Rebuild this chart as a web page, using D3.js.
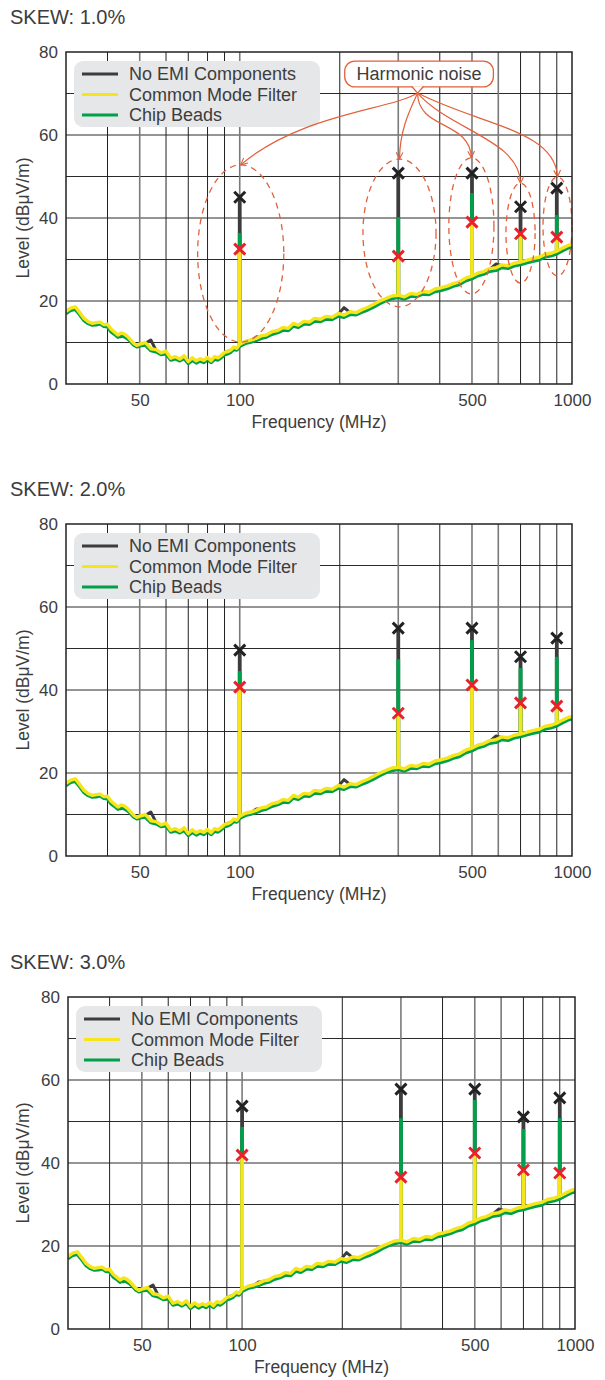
<!DOCTYPE html>
<html><head><meta charset="utf-8">
<script src="https://cdn.jsdelivr.net/npm/d3@7"></script>
<style>
body{margin:0;background:#fff}
text{font-family:"Liberation Sans",Arial,Helvetica,sans-serif;fill:#3d3d3d}
</style>
</head><body>
<svg id="c" width="605" height="1380"></svg>
<script>
// ---------- data ----------
const freqs = [30,31,32,33,34,35,36,37,38,39,40,41,42,43,44,45,46,47,48,49,50,
  52,54,56,58,60,62,64,66,68,70,72,74,76,78,80,82,84,86,88,90,92,94,96,98,
  100,104,108,112,116,120,125,130,135,140,145,150,156,162,168,175,182,190,198,
  206,215,224,233,243,253,264,275,287,300,313,327,341,356,371,387,404,421,439,458,478,
  500,520,542,565,590,615,642,670,700,729,760,793,827,863,900,939,980,1000];

const cmfBase = [17.5,18.3,18.6,17.2,15.8,15.0,14.6,14.8,14.9,14.3,14.4,13.2,12.5,11.8,12.3,12.0,11.4,10.6,9.8,9.3,9.6,
  10.0,8.5,8.3,7.5,7.9,6.2,6.6,6.0,6.8,5.4,6.3,5.6,6.1,5.7,6.4,5.6,6.6,6.3,6.9,7.6,7.8,8.2,8.9,8.6,
  9.6,10.3,10.6,11.0,11.6,11.8,12.6,12.9,13.6,13.4,14.6,14.2,15.1,14.9,15.8,15.6,16.3,16.1,17.0,
  16.6,17.4,17.2,17.9,18.5,19.2,20.0,20.6,21.2,21.4,21.0,21.8,21.6,22.3,22.1,22.9,23.2,23.6,24.2,24.6,25.5,
  26.0,26.7,27.1,27.8,28.0,28.7,28.5,29.1,29.4,29.8,30.2,30.5,31.2,31.5,32.0,32.8,33.5,33.6];

const chipBase = [17.0,17.8,18.0,16.7,15.3,14.6,14.2,14.3,14.5,13.9,13.8,12.6,12.0,11.3,11.6,11.4,10.9,10.2,9.4,9.0,9.2,
  9.4,8.1,7.8,7.1,7.3,5.8,6.1,5.6,6.2,5.0,5.7,5.1,5.6,5.2,5.9,5.2,6.0,5.8,6.4,7.1,7.3,7.7,8.4,8.2,
  9.1,9.8,10.1,10.5,11.0,11.3,12.0,12.4,13.0,12.9,14.0,13.7,14.5,14.4,15.2,15.1,15.7,15.6,16.4,
  16.1,16.8,16.7,17.3,17.9,18.6,19.4,20.1,20.6,20.9,20.5,21.2,21.1,21.7,21.6,22.3,22.6,23.0,23.6,24.0,24.9,
  25.4,26.1,26.5,27.2,27.4,28.1,27.9,28.5,28.8,29.2,29.6,29.9,30.6,30.9,31.4,32.2,32.9,33.1];

const noEmiBase = [17.3,18.0,18.4,17.0,15.6,14.9,14.4,14.6,14.7,14.1,14.2,13.0,12.3,11.5,11.4,11.8,11.2,10.4,9.5,9.1,9.4,
  9.8,10.6,8.1,7.3,7.7,6.0,6.4,5.8,6.6,5.3,6.1,5.4,5.9,5.5,6.2,5.5,6.4,6.1,6.7,7.4,7.9,8.0,8.7,8.4,
  9.4,10.1,10.4,11.3,11.4,11.6,12.4,12.7,13.4,13.2,14.4,14.0,14.9,14.7,15.6,15.4,16.1,15.9,16.8,
  18.4,17.2,17.0,17.7,18.3,19.0,19.8,20.4,21.0,21.2,20.8,21.6,21.4,22.1,21.9,22.7,23.0,23.4,24.0,24.4,25.3,
  25.8,26.5,26.9,27.6,28.9,28.5,28.3,28.9,29.2,29.6,30.0,30.3,31.0,31.3,31.8,32.6,33.3,33.4];

const harmonicFreqs = [100,300,500,700,900];
const skew1NoEmiPeaks = [45.0,50.8,50.8,42.7,47.2];
const skew1ChipPeaks  = [36.4,40.2,46.0,36.5,40.7];
const skew1CmfPeaks   = [32.5,30.8,39.0,36.2,35.4];
const skew2NoEmiPeaks = [49.6,54.9,54.9,48.0,52.5];
const skew2ChipPeaks  = [44.6,47.4,52.0,45.3,48.0];
const skew2CmfPeaks   = [40.7,34.4,41.2,36.9,36.1];
const skew3NoEmiPeaks = [53.7,57.8,57.8,51.1,55.7];
const skew3ChipPeaks  = [48.7,50.8,55.2,48.2,50.8];
const skew3CmfPeaks   = [41.9,36.6,42.4,38.3,37.6];

const xTickValues = [50,100,500,1000];
const xGridValues = [40,50,60,70,80,90,100,200,300,400,500,600,700,800,900];
const xGridGrey   = [50,100,300,500,600];
const yTickValues = [0,20,40,60,80];
const yGridValues = [10,20,30,40,50,60,70];
const seriesNames = ["No EMI Components","Common Mode Filter","Chip Beads"];
const panelTitles = ["SKEW: 1.0%","SKEW: 2.0%","SKEW: 3.0%"];

// annotation (panel 1) in data units
const annotText = "Harmonic noise";
const annotBoxFreq = [207,580];
const annotBoxLevel = [77.8,71.6];
const annotNotch = [343,70.1];
const ellipseFreqLo = [74.7,234.9,425.9,632.8,818];
const ellipseFreqHi = [135.7,389.7,582.2,774.4,1000];
const ellipseLevelHi = [52.8,54.2,54.5,48.4,49.9];
const ellipseLevelLo = [10.1,18.6,21.7,24.3,26.0];
const curveC1Freq = [283,325,343,429,528];
const curveC1Level = [66.0,66.0,61.2,61.2,62.4];
const curveC2Freq = [152,303,493,697,890];
const curveC2Level = [65.1,61.2,63.6,58.8,61.2];

// ---------- styles / layout ----------
const colors = {noEmi:"#3c3c3c", cmf:"#f6e51a", chip:"#00a04a", redX:"#e8212b", blackX:"#222", annot:"#e2603a"};
const panels = [
  {title:panelTitles[0], top:52, left:66, right:572, noEmi:skew1NoEmiPeaks, chip:skew1ChipPeaks, cmf:skew1CmfPeaks, annot:true},
  {title:panelTitles[1], top:524, left:66, right:572, noEmi:skew2NoEmiPeaks, chip:skew2ChipPeaks, cmf:skew2CmfPeaks, annot:false},
  {title:panelTitles[2], top:997, left:68, right:575, noEmi:skew3NoEmiPeaks, chip:skew3ChipPeaks, cmf:skew3CmfPeaks, annot:false}
];
const plotH = 332;

const svg = d3.select("#c");
const defs = svg.append("defs");
defs.append("marker").attr("id","arr").attr("viewBox","0 0 10 10").attr("refX",9).attr("refY",5)
  .attr("markerWidth",7).attr("markerHeight",7).attr("orient","auto-start-reverse")
  .append("path").attr("d","M1,1 L9,5 L1,9").attr("fill","none").attr("stroke",colors.annot).attr("stroke-width",1.3);

panels.forEach((p,pi)=>{
  const bottom = p.top + plotH;
  const x = d3.scaleLog().domain([30,1000]).range([p.left,p.right]);
  const y = d3.scaleLinear().domain([0,80]).range([bottom,p.top]);
  const g = svg.append("g");

  defs.append("clipPath").attr("id","clip"+pi).append("rect")
    .attr("x",p.left).attr("y",p.top).attr("width",p.right-p.left).attr("height",plotH);

  // title
  g.append("text").attr("x",10).attr("y",p.top-28).attr("font-size",20).text(p.title);

  // grid
  g.append("g").selectAll("line").data(yGridValues).join("line")
    .attr("x1",p.left).attr("x2",p.right).attr("y1",d=>y(d)).attr("y2",d=>y(d))
    .attr("stroke","#2a2a2a").attr("stroke-width",1);
  g.append("g").selectAll("line").data(xGridValues).join("line")
    .attr("x1",d=>x(d)).attr("x2",d=>x(d)).attr("y1",p.top).attr("y2",bottom)
    .attr("stroke",d=>xGridGrey.includes(d)?"#7a7a7a":"#222")
    .attr("stroke-width",d=>xGridGrey.includes(d)?1.6:1);

  const xAxis = g.append("g").attr("transform",`translate(0,${bottom})`)
    .call(d3.axisBottom(x).tickValues(xTickValues).tickFormat(d3.format("d")).tickSize(0).tickPadding(10));
  xAxis.select(".domain").remove();
  xAxis.selectAll("text").attr("font-size",17).attr("fill","#3d3d3d").attr("font-family",null);
  const yAxis = g.append("g").attr("transform",`translate(${p.left},0)`)
    .call(d3.axisLeft(y).tickValues(yTickValues).tickSize(0).tickPadding(8));
  yAxis.select(".domain").remove();
  yAxis.selectAll("text").attr("font-size",17).attr("fill","#3d3d3d").attr("font-family",null);

  g.append("text").attr("x",(p.left+p.right)/2).attr("y",bottom+44).attr("text-anchor","middle")
    .attr("font-size",17.5).text("Frequency (MHz)");
  g.append("text").attr("transform",`translate(29,${(p.top+bottom)/2}) rotate(-90)`)
    .attr("text-anchor","middle").attr("font-size",17.5).text("Level (dB\u03bcV/m)");

  // legend
  const lg = g.append("g");
  lg.append("rect").attr("x",p.left+8).attr("y",p.top+9).attr("width",246).attr("height",66)
    .attr("rx",9).attr("fill","#e6e7e8");
  const legCols = [colors.noEmi, colors.cmf, colors.chip];
  seriesNames.forEach((n,i)=>{
    const yy = p.top+22+i*20.5;
    lg.append("line").attr("x1",p.left+16).attr("x2",p.left+52).attr("y1",yy).attr("y2",yy)
      .attr("stroke",legCols[i]).attr("stroke-width",3);
    lg.append("text").attr("x",p.left+63).attr("y",yy).attr("dy","0.36em").attr("font-size",18).text(n);
  });

  // data
  const dg = g.append("g").attr("clip-path",`url(#clip${pi})`);
  const line = d3.line().x(d=>x(d[0])).y(d=>y(d[1]));
  const series = [
    {base:noEmiBase, peaks:p.noEmi, color:colors.noEmi, w:3.0},
    {base:chipBase, peaks:p.chip, color:colors.chip, w:3.6},
    {base:cmfBase, peaks:p.cmf, color:colors.cmf, w:3.4}
  ];
  series.forEach(s=>{
    dg.append("path").datum(freqs.map((f,i)=>[f,s.base[i]])).attr("d",line)
      .attr("fill","none").attr("stroke",s.color).attr("stroke-width",s.w).attr("stroke-linejoin","round");
    harmonicFreqs.forEach((f,i)=>{
      const b = s.base[freqs.indexOf(f)];
      dg.append("path").datum([[f,b],[f,s.peaks[i]]]).attr("d",line)
        .attr("fill","none").attr("stroke",s.color).attr("stroke-width",3.8);
    });
  });

  // markers
  const xMark = (px,py,c)=>{
    const r=5.5;
    g.append("path").attr("d",`M${px-r},${py-r}L${px+r},${py+r}M${px-r},${py+r}L${px+r},${py-r}`)
      .attr("stroke",c).attr("stroke-width",3).attr("fill","none");
  };
  harmonicFreqs.forEach((f,i)=>{
    xMark(x(f),y(p.noEmi[i]),colors.blackX);
    xMark(x(f),y(p.cmf[i]),colors.redX);
  });

  // annotation
  if(p.annot){
    const ag = g.append("g");
    harmonicFreqs.forEach((f,i)=>{
      const x0=x(ellipseFreqLo[i]), x1=x(ellipseFreqHi[i]), y0=y(ellipseLevelHi[i]), y1=y(ellipseLevelLo[i]);
      ag.append("ellipse").attr("cx",(x0+x1)/2).attr("cy",(y0+y1)/2).attr("rx",(x1-x0)/2).attr("ry",(y1-y0)/2)
        .attr("fill","none").attr("stroke",colors.annot).attr("stroke-width",1.3).attr("stroke-dasharray","6,5");
    });
    const nx=x(annotNotch[0]), ny=y(annotNotch[1]);
    harmonicFreqs.forEach((f,i)=>{
      const x0=x(ellipseFreqLo[i]), x1=x(ellipseFreqHi[i]);
      const ex=(x0+x1)/2, ey=y(ellipseLevelHi[i]);
      const path = d3.path();
      path.moveTo(nx,ny);
      path.bezierCurveTo(x(curveC1Freq[i]),y(curveC1Level[i]),x(curveC2Freq[i]),y(curveC2Level[i]),ex,ey);
      ag.append("path").attr("d",path.toString()).attr("fill","none").attr("stroke",colors.annot)
        .attr("stroke-width",1.2).attr("marker-end","url(#arr)");
    });
    const bx0=x(annotBoxFreq[0]), bx1=x(annotBoxFreq[1]), by0=y(annotBoxLevel[0]), by1=y(annotBoxLevel[1]);
    ag.append("rect").attr("x",bx0).attr("y",by0).attr("width",bx1-bx0).attr("height",by1-by0).attr("rx",10)
      .attr("fill","#fff").attr("stroke",colors.annot).attr("stroke-width",1.3);
    ag.append("path").attr("d",`M${nx-6},${by1-0.6}L${nx},${ny}L${nx+6},${by1-0.6}`)
      .attr("fill","#fff").attr("stroke",colors.annot).attr("stroke-width",1.3);
    ag.append("text").attr("x",(bx0+bx1)/2).attr("y",(by0+by1)/2).attr("dy","0.36em").attr("text-anchor","middle")
      .attr("font-size",18).text(annotText);
  }

  // border
  g.append("rect").attr("x",p.left).attr("y",p.top).attr("width",p.right-p.left).attr("height",plotH)
    .attr("fill","none").attr("stroke","#222").attr("stroke-width",1.5);
});
</script>
</body></html>
